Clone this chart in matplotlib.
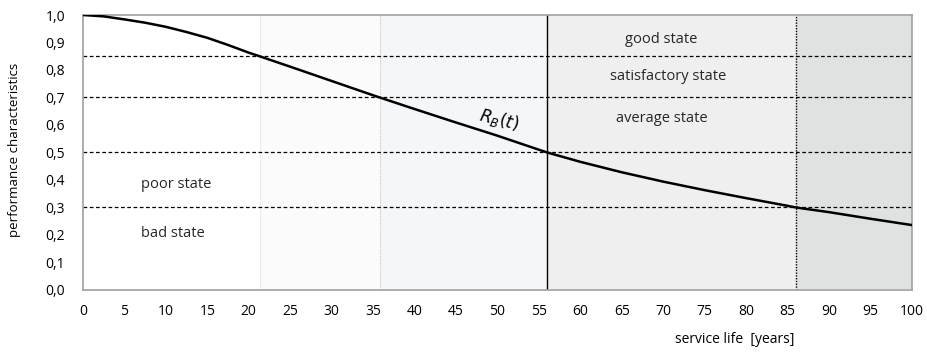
import matplotlib
matplotlib.use("Agg")
import matplotlib.pyplot as plt

# ---- data ----
years = [0, 2.5, 5, 7.5, 10, 12.5, 15, 17.5, 20, 21.3, 25, 30, 35, 35.8, 40, 45, 50, 55, 56,
         60, 65, 70, 75, 80, 85, 86, 90, 95, 100]
reliability = [1.0, 0.995, 0.984, 0.972, 0.957, 0.938, 0.917, 0.891, 0.863, 0.85, 0.812, 0.760, 0.708, 0.70,
               0.658, 0.609, 0.561, 0.510, 0.50,
               0.466, 0.428, 0.394, 0.363, 0.334, 0.306, 0.30, 0.283, 0.259, 0.236]
thresholds = [0.85, 0.7, 0.5, 0.3]
region_bounds = [21.3, 35.8, 56, 86, 100]
region_colors = ["#fafbfa", "#f5f6f8", "#eeefee", "#e0e1e1"]
state_labels = ["good state", "satisfactory state", "average state", "poor state", "bad state"]
state_label_pos = [(69.8, 0.91), (70.6, 0.775), (69.8, 0.625), (11.2, 0.385), (10.8, 0.207)]
x_ticks = list(range(0, 101, 5))
y_ticks = [0.0, 0.1, 0.2, 0.3, 0.4, 0.5, 0.6, 0.7, 0.8, 0.9, 1.0]
y_tick_labels = [f"{v:.1f}".replace(".", ",") for v in y_ticks]

plt.rcParams['font.family'] = ['Open Sans', 'DejaVu Sans']

fig = plt.figure(figsize=(9.28, 3.53), dpi=100)
ax = fig.add_axes([0.0894, 0.1785, 0.8934, 0.779])

ax.set_xlim(0, 100)
ax.set_ylim(0, 1.0)

# shaded regions
for i in range(4):
    ax.axvspan(region_bounds[i], region_bounds[i + 1], ymin=0.005, ymax=0.997,
               color=region_colors[i], lw=0, zorder=0)

# vertical separators
ax.axvline(region_bounds[0], color="#eceeec", lw=0.8, zorder=1)
ax.axvline(region_bounds[1], color="#c8c8c8", lw=0.8, ls=(0, (1, 1)), zorder=1)
ax.axvline(region_bounds[2], color="black", lw=1.0, zorder=1)
ax.axvline(region_bounds[3], color="black", lw=1.0, ls=(0, (1, 1)), zorder=1)

# threshold dashed lines
for th in thresholds:
    ax.axhline(th, color="black", lw=0.9, ls=(0, (3, 2)), zorder=2)

# curve
ax.plot(years, reliability, color="black", lw=1.8, zorder=3, solid_joinstyle="round")

# labels
for lab, (x, y) in zip(state_labels, state_label_pos):
    ax.text(x, y, lab, ha="center", va="center", fontsize=10.5, color="#262626", zorder=4)

ax.text(50.2, 0.62, r"$R_B(t)$", ha="center", va="center", fontsize=12, rotation=-14,
        color="black", zorder=4,
        math_fontfamily="dejavusans")

ax.set_xticks(x_ticks)
ax.set_xticklabels([str(v) for v in x_ticks], fontsize=10)
ax.set_yticks(y_ticks)
ax.set_yticklabels(y_tick_labels, fontsize=10)
ax.tick_params(axis="x", length=0, pad=10)
ax.tick_params(axis="y", length=0, pad=13)

for s in ax.spines.values():
    s.set_color("#a0a0a0")
    s.set_linewidth(1.2)

fig.text(0.016, 0.575, "performance characteristics", rotation=90, ha="center", va="center", fontsize=9.5)
fig.text(0.792, 0.037, "service life  [years]", ha="center", va="center", fontsize=10)

fig.savefig("out.png", dpi=100)
